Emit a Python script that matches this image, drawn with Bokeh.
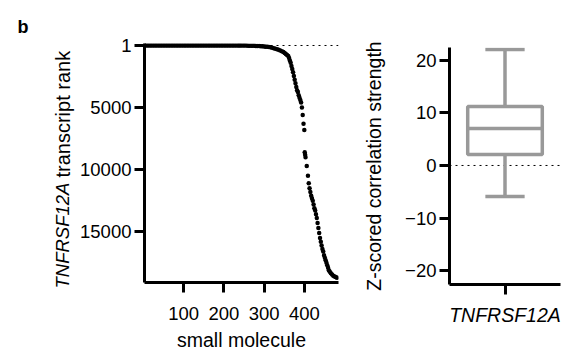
import math
from bokeh.plotting import figure
from bokeh.models import Range1d, FixedTicker, Span, Label
from bokeh.layouts import row, column
from bokeh.embed import file_html
from bokeh.resources import INLINE

# ---------------- data ----------------
molecule = [
    1, 5, 9, 13, 17, 21, 25, 29, 33, 37, 41, 45, 49, 53, 57, 61, 65, 69, 73, 77,
    81, 85, 89, 93, 97, 101, 105, 109, 113, 117, 121, 125, 129, 133, 137, 141, 145, 149, 153, 157,
    161, 165, 169, 173, 177, 181, 185, 189, 193, 197, 201, 205, 209, 213, 217, 221, 225, 229, 233, 237,
    240, 244, 248, 252, 256, 260, 264, 268, 272, 276, 280, 284, 288, 292, 296, 300, 304, 308, 312, 316,
    320, 324, 328, 332, 336, 340, 344, 348, 351, 354, 357, 360, 362, 364, 366, 368, 370, 372, 374, 376,
    378, 380, 382, 384, 386, 388, 390, 392, 394, 396, 398, 400, 401, 402, 403, 406, 409, 411, 413, 415,
    417, 419, 421, 423, 425, 427, 429, 431, 433, 435, 437, 439, 441, 443, 445, 447, 449, 451, 453, 455,
    457, 459, 461, 463, 466, 469, 472, 475, 478, 481,
]
rank = [
    1, 1, 1, 1, 1, 1, 1, 1, 1, 1, 1, 1, 1, 1, 1, 1, 1, 1, 1, 1,
    1, 1, 1, 1, 1, 1, 1, 1, 1, 1, 1, 1, 1, 1, 1, 1, 1, 1, 1, 1,
    1, 1, 1, 1, 1, 1, 1, 1, 1, 1, 1, 1, 1, 1, 1, 1, 1, 1, 1, 1,
    1, 2, 3, 5, 8, 12, 16, 20, 25, 30, 36, 42, 50, 58, 68, 80, 95, 110, 130, 150,
    180, 220, 260, 300, 350, 400, 460, 530, 600, 680, 760, 850, 1000, 1200, 1400, 1650, 1900, 2150, 2450, 2750,
    3050, 3350, 3600, 3750, 4000, 4200, 4400, 4600, 5000, 5600, 6300, 6800, 8600, 8800, 9000, 9700, 10500, 11100, 11500, 11800,
    12100, 12300, 12500, 12800, 13100, 13300, 13600, 13900, 14300, 14700, 15100, 15500, 15800, 16100, 16400, 16600, 16900, 17100, 17300, 17500,
    17700, 17900, 18100, 18200, 18350, 18450, 18550, 18600, 18650, 18700,
]
rank_ticks = [1, 5000, 10000, 15000]
molecule_ticks = [100, 200, 300, 400]

gene = "TNFRSF12A"
box_low = -5.9
box_q1 = 2.1
box_median = 7.0
box_q3 = 11.2
box_high = 22.0
z_ticks = [-20, -10, 0, 10, 20]

# ---------------- style ----------------
FONT = "Liberation Sans"
TICK_FS = "18.5px"
LABEL_FS = "19.5px"
GRAY = "#999999"

def style_axes(p):
    p.outline_line_color = None
    p.grid.visible = False
    for ax in (p.xaxis[0], p.yaxis[0]):
        ax.axis_line_width = 3
        ax.axis_line_color = "black"
        ax.major_tick_line_width = 3
        ax.major_tick_line_color = "black"
        ax.major_tick_out = 10
        ax.major_tick_in = 0
        ax.minor_tick_line_color = None
        ax.major_label_text_font = FONT
        ax.major_label_text_font_size = TICK_FS
        ax.major_label_text_color = "black"
        ax.axis_label_text_font = FONT
        ax.axis_label_text_font_size = LABEL_FS
        ax.axis_label_text_color = "black"
        ax.axis_label_text_font_style = "normal"

H = 353

# ---------------- left strip (panel letter + y label) ----------------
W0 = 75
p0 = figure(width=W0, height=H, x_range=Range1d(0, W0), y_range=Range1d(H, 0),
            output_backend="svg", toolbar_location=None,
            x_axis_location=None, y_axis_location=None,
            min_border_left=0, min_border_right=0, min_border_top=0, min_border_bottom=0)
p0.outline_line_color = None
p0.grid.visible = False
p0.add_layout(Label(x=17, y=26, text="b", text_align="left", text_baseline="alphabetic",
                    text_font=FONT, text_font_size="18px", text_font_style="bold",
                    text_color="black"))
lab_x = 62
p0.add_layout(Label(x=lab_x, y=288, text=gene, angle=math.pi / 2,
                    text_align="left", text_baseline="middle",
                    text_font=FONT, text_font_size="18.5px", text_font_style="italic",
                    text_color="black"))
p0.add_layout(Label(x=lab_x, y=177, text="transcript rank", angle=math.pi / 2,
                    text_align="left", text_baseline="middle",
                    text_font=FONT, text_font_size="20px", text_color="black"))

# ---------------- left panel ----------------
W1 = 285
p1 = figure(width=W1, height=H, x_range=Range1d(2.5, 485), y_range=Range1d(19090, -160),
            output_backend="svg", toolbar_location=None,
            min_border_left=69, min_border_right=22,
            min_border_top=43, min_border_bottom=70)
style_axes(p1)
p1.xaxis.ticker = FixedTicker(ticks=molecule_ticks)
p1.yaxis.ticker = FixedTicker(ticks=rank_ticks)
p1.xaxis.axis_label = "small molecule"
p1.xaxis.axis_label_standoff = 6
p1.xaxis.major_label_standoff = 14
p1.yaxis.major_label_standoff = 3

p1.add_layout(Span(location=1, dimension="width", line_color="black",
                   line_width=1, line_dash="dotted", level="underlay"))
p1.scatter(molecule, rank, size=4.5, color="black", line_color=None)

# ---------------- right panel ----------------
W2 = 207
p2 = figure(width=W2, height=H, x_range=Range1d(0, 1), y_range=Range1d(-22.6, 22.4),
            output_backend="svg", toolbar_location=None,
            min_border_left=87, min_border_right=7,
            min_border_top=47, min_border_bottom=69)
style_axes(p2)
p2.xaxis.ticker = FixedTicker(ticks=[0.5])
p2.xaxis.major_label_overrides = {0.5: gene}
p2.xaxis.major_label_text_font_style = "italic"
p2.xaxis.major_label_text_font_size = LABEL_FS
p2.xaxis.major_label_standoff = 9
p2.yaxis.ticker = FixedTicker(ticks=z_ticks)
p2.yaxis.major_label_standoff = 3
p2.yaxis.axis_label = "Z-scored correlation strength"
p2.yaxis.axis_label_standoff = 17

p2.add_layout(Span(location=0, dimension="width", line_color="black",
                   line_width=1, line_dash="dotted", level="underlay"))
cx = 0.5
box_half = 0.336
cap_half = 0.177
p2.segment(x0=[cx, cx], y0=[box_q3, box_q1], x1=[cx, cx], y1=[box_high, box_low],
           line_color=GRAY, line_width=3.5)
p2.segment(x0=[cx - cap_half, cx - cap_half], y0=[box_high, box_low],
           x1=[cx + cap_half, cx + cap_half], y1=[box_high, box_low],
           line_color=GRAY, line_width=3.5)
p2.quad(left=[cx - box_half], right=[cx + box_half], bottom=[box_q1], top=[box_q3],
        fill_color="white", line_color=GRAY, line_width=3.5)
p2.segment(x0=[cx - box_half], y0=[box_median], x1=[cx + box_half], y1=[box_median],
           line_color=GRAY, line_width=3.5)

layout = row(column(p0), column(p1), column(p2))
open("out.html", "w").write(file_html(layout, INLINE))
